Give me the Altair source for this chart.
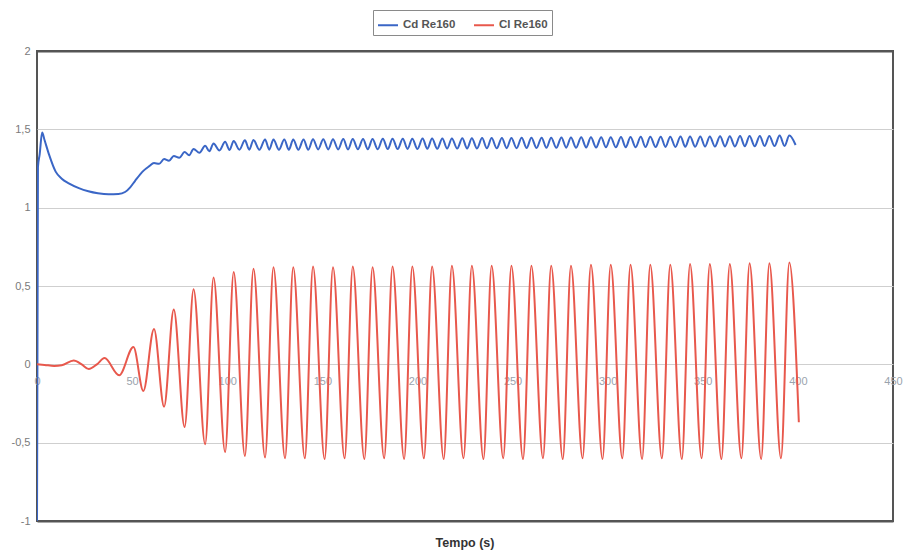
import altair as alt
import pandas as pd

# Cl Re160 : (time, value) read at the turning points of the curve
cl_points = [
    (0, 0.0), (4, -0.004), (9, -0.01), (13, -0.006), (19.3, 0.025), (23.5, 0.0),
    (27.2, -0.03), (31.5, 0.0), (35.5, 0.04), (43.2, -0.07), (50.7, 0.11),
    (55.9, -0.17), (61.5, 0.225), (66.8, -0.27), (71.9, 0.35), (77.6, -0.40),
    (82.3, 0.48), (88.4, -0.51), (92.8, 0.555), (98.9, -0.56), (103.4, 0.59),
    (109.3, -0.585), (113.8, 0.61), (119.9, -0.595), (124.3, 0.62), (130.4, -0.60),
    (134.7, 0.62), (140.8, -0.60), (145.1, 0.625), (151.2, -0.605), (155.6, 0.62),
    (161.7, -0.60), (166.0, 0.625), (172.1, -0.605), (176.4, 0.62), (182.5, -0.60),
    (186.9, 0.625), (193.0, -0.605), (197.3, 0.625), (203.4, -0.60), (207.7, 0.625),
    (213.8, -0.605), (218.1, 0.63), (224.2, -0.60), (228.6, 0.63), (234.7, -0.605),
    (239.0, 0.63), (245.1, -0.60), (249.4, 0.63), (255.5, -0.605), (259.9, 0.63),
    (266.0, -0.60), (270.3, 0.63), (276.4, -0.605), (280.7, 0.63), (286.8, -0.60),
    (291.2, 0.635), (297.3, -0.605), (301.6, 0.635), (307.7, -0.60), (312.0, 0.635),
    (318.1, -0.605), (322.4, 0.635), (328.5, -0.60), (332.9, 0.635), (339.0, -0.605),
    (343.3, 0.64), (349.4, -0.60), (353.7, 0.64), (359.8, -0.605), (364.2, 0.64),
    (370.3, -0.60), (374.6, 0.645), (380.7, -0.605), (385.0, 0.645), (391.1, -0.60),
    (395.5, 0.65), (400.5, -0.37),
]

# Cd Re160 : (time, value) read at the turning points of the curve
cd_points = [
    (0, -1.0), (0.5, 1.26), (1.4, 1.34), (2.7, 1.48), (4.0, 1.43), (6.3, 1.34),
    (9.8, 1.23), (13.0, 1.185), (16.7, 1.155), (22.0, 1.125), (27.0, 1.105),
    (32.0, 1.092), (37.6, 1.085), (42.8, 1.087), (46.3, 1.10), (49.0, 1.13),
    (51.5, 1.17), (55.9, 1.235), (59.0, 1.265),
    (61.5, 1.285), (64.2, 1.28), (66.8, 1.31), (69.4, 1.30), (71.9, 1.33),
    (74.8, 1.318), (77.6, 1.355), (80.0, 1.335), (82.3, 1.375), (85.4, 1.35),
    (88.4, 1.395), (90.6, 1.36), (92.8, 1.41), (95.9, 1.365), (98.9, 1.42),
    (101.2, 1.368), (103.4, 1.425), (106.4, 1.37), (109.3, 1.43), (111.6, 1.37),
    (113.8, 1.432), (116.9, 1.37), (119.9, 1.435), (122.1, 1.37), (124.3, 1.435),
    (127.2, 1.37), (130.0, 1.435), (132.4, 1.37), (134.7, 1.435), (137.4, 1.37),
    (140.1, 1.435), (142.6, 1.37), (145.1, 1.437), (147.8, 1.372), (150.5, 1.437),
    (153.1, 1.372), (155.6, 1.437), (158.3, 1.372), (161.0, 1.438), (163.5, 1.372),
    (166.0, 1.438), (168.7, 1.373), (171.4, 1.438), (173.9, 1.373), (176.4, 1.438),
    (179.1, 1.373), (181.8, 1.44), (184.4, 1.374), (186.9, 1.44), (189.6, 1.374),
    (192.3, 1.44), (194.8, 1.375), (197.3, 1.44), (200.0, 1.375), (202.7, 1.441),
    (205.2, 1.376), (207.7, 1.441), (210.4, 1.376), (213.1, 1.442), (215.6, 1.377),
    (218.1, 1.442), (220.9, 1.377), (223.6, 1.443), (226.1, 1.378), (228.6, 1.443),
    (231.3, 1.378), (234.0, 1.444), (236.5, 1.379), (239.0, 1.444), (241.7, 1.379),
    (244.4, 1.445), (246.9, 1.38), (249.4, 1.445), (252.1, 1.38), (254.8, 1.446),
    (257.4, 1.381), (259.9, 1.446), (262.6, 1.381), (265.3, 1.447), (267.8, 1.382),
    (270.3, 1.447), (273.0, 1.382), (275.7, 1.448), (278.2, 1.383), (280.7, 1.448),
    (283.4, 1.383), (286.1, 1.449), (288.7, 1.384), (291.2, 1.449), (293.9, 1.384),
    (296.6, 1.45), (299.1, 1.385), (301.6, 1.45), (304.3, 1.385), (307.0, 1.451),
    (309.5, 1.386), (312.0, 1.451), (314.7, 1.386), (317.4, 1.452), (319.9, 1.387),
    (322.4, 1.452), (325.2, 1.387), (327.9, 1.453), (330.4, 1.388), (332.9, 1.453),
    (335.6, 1.388), (338.3, 1.454), (340.8, 1.389), (343.3, 1.454), (346.0, 1.389),
    (348.7, 1.455), (351.2, 1.39), (353.7, 1.455), (356.4, 1.39), (359.1, 1.456),
    (361.7, 1.391), (364.2, 1.456), (366.9, 1.391), (369.6, 1.457), (372.1, 1.392),
    (374.6, 1.457), (377.3, 1.392), (380.0, 1.458), (382.5, 1.393), (385.0, 1.458),
    (387.7, 1.393), (390.4, 1.46), (393.0, 1.394), (395.5, 1.46), (398.8, 1.40),
]

series_names = ["Cd Re160", "Cl Re160"]
series_colors = ["#3a66c6", "#e8584c"]
x_ticks = [0, 50, 100, 150, 200, 250, 300, 350, 400, 450]
y_ticks = [-1, -0.5, 0, 0.5, 1, 1.5, 2]

rows = []
for i, (t, v) in enumerate(cd_points):
    rows.append({"t": t, "v": v, "serie": series_names[0], "o": i})
for i, (t, v) in enumerate(cl_points):
    rows.append({"t": t, "v": v, "serie": series_names[1], "o": i})
df = pd.DataFrame(rows)

W, H = 856, 470
edge_test = "datum.value == 2 || datum.value == -1"

chart = (
    alt.Chart(df)
    .mark_line(interpolate="monotone", strokeWidth=2, clip=True)
    .encode(
        x=alt.X(
            "t:Q",
            scale=alt.Scale(domain=[0, 450], nice=False),
            axis=alt.Axis(
                values=x_ticks,
                title=None,
                grid=False,
                domain=False,
                ticks=False,
                offset=-H / 3,
                labelColor="#9aa3ad",
                labelFontSize=11,
                labelFont="Liberation Sans",
                labelPadding=11,
                labelFlush=False,
            ),
        ),
        y=alt.Y(
            "v:Q",
            scale=alt.Scale(domain=[-1, 2], nice=False),
            axis=alt.Axis(
                values=y_ticks,
                title=None,
                domain=False,
                ticks=False,
                gridColor=alt.condition(edge_test, alt.value("#555555"), alt.value("#cfcfcf")),
                gridWidth=alt.condition(edge_test, alt.value(2), alt.value(1)),
                labelColor="#7a7a7a",
                labelFontSize=11,
                labelFont="Liberation Sans",
                labelPadding=7,
                labelExpr="replace(toString(datum.value), '.', ',')",
            ),
        ),
        color=alt.Color(
            "serie:N",
            scale=alt.Scale(domain=series_names, range=series_colors),
            legend=alt.Legend(
                title=None,
                orient="none",
                legendX=336,
                legendY=-41,
                direction="horizontal",
                symbolType="stroke",
                symbolSize=400,
                symbolStrokeWidth=2,
                labelFontSize=11.5,
                labelFont="Liberation Sans",
                labelFontWeight="bold",
                labelColor="#555555",
                strokeColor="#8a8a8a",
                padding=4,
                columnPadding=14,
                symbolOffset=0,
            ),
        ),
        order="o:Q",
    )
    .properties(
        width=W,
        height=H,
        autosize="none",
        background="white",
        padding={"left": 37, "top": 51, "right": 14, "bottom": 32},
        title=alt.TitleParams(
            "Tempo (s)",
            orient="bottom",
            anchor="middle",
            fontSize=12.5,
            font="Liberation Sans",
            fontWeight="bold",
            color="#333333",
            offset=11,
        ),
    )
    .configure_view(stroke="#555555", strokeWidth=2)
)

chart.save("out.html", embed_options={"renderer": "svg", "actions": False})
